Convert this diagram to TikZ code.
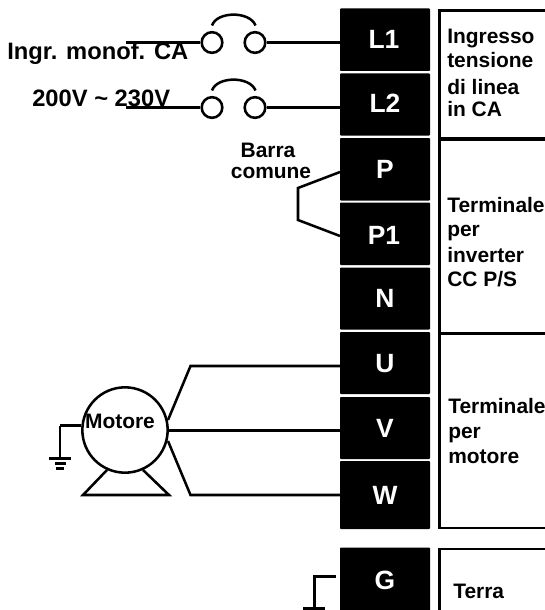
\documentclass[tikz,border=0pt]{standalone}
\usepackage{fontspec}
\setmainfont{Liberation Sans}
\begin{document}
\begin{tikzpicture}[x=0.75pt,y=-0.75pt,line join=miter,
  wire/.style={line width=2.3pt,black},
  thin wire/.style={line width=1.9pt,black},
  tlab/.style={inner sep=0pt,anchor=base,text=white,font=\bfseries\fontsize{19.8}{22}\selectfont},
  contact/.style={circle,draw=black,line width=1.9pt,minimum size=15.5pt,inner sep=0pt,fill=none},
  lab/.style={font=\bfseries\fontsize{15.7}{17}\selectfont,inner sep=0pt,anchor=base west,text=black},
  big lab/.style={font=\bfseries\fontsize{17.8}{19}\selectfont,inner sep=0pt,anchor=base west,text=black},
  cell/.style={draw=black,line width=1.9pt},
  ]
\useasboundingbox (0,0) rectangle (545,610);
% terminals
\foreach \a/\b in {8.5/71,73.5/135.5,138/200.5,202.5/265,267.5/329.5,332/394,397/459,461/529,547.5/612}{
  \fill[black,rounded corners=0.6pt] (340,\a) rectangle (430,\b);
}
\node[tlab] (tl1) at (384,49) {L1};
\node[tlab] (tl2) at (385,113) {L2};
\node[tlab] (tp) at (385,178) {P};
\node[tlab] (tpa) at (384,244) {P1};
\node[tlab] (tn) at (385,307) {N};
\node[tlab] (tu) at (385,372) {U};
\node[tlab] (tv) at (385,437) {V};
\node[tlab] (tw) at (385,504) {W};
\node[tlab] (tg) at (385,589) {G};
% table
\draw[cell] (547,10.5) -- (439.5,10.5) -- (439.5,528) -- (547,528);
\draw[line width=2.4pt] (439.5,139) -- (547,139);
\draw[cell] (439.5,333.5) -- (547,333.5);
\draw[cell] (547,549) -- (439.5,549) -- (439.5,612);
% right labels
\node[lab] (i1) at (447,44) {Ingresso};
\node[lab] (i2) at (447,68) {tensione};
\node[lab] (i3) at (447,94) {di linea};
\node[lab] (i4) at (447,116) {in CA};
\node[lab] (t1) at (447,212) {Terminale};
\node[lab] (t2) at (447,236) {per};
\node[lab] (t3) at (447,262) {inverter};
\node[lab] (t4) at (447,286) {CC P/S};
\node[lab] (m1) at (448,413) {Terminale};
\node[lab] (m2) at (448,438) {per};
\node[lab] (m3) at (448,463) {motore};
\node[lab] (ter) at (453,598) {Terra};
% contacts
\node[contact] (c1a) at (212,42.5) {};
\node[contact] (c1b) at (255,42.5) {};
\node[contact] (c2a) at (212,107.5) {};
\node[contact] (c2b) at (255,107.5) {};
\coordinate (s1) at (126,42.5);
\coordinate (s2) at (126,107.5);
\coordinate (e1) at (340,42.5);
\coordinate (e2) at (340,107.5);
\draw[wire] (s1) -- (c1a.west);
\draw[wire] (s2) -- (c2a.west);
\draw[wire] (c1b.east) -- (e1);
\draw[wire] (c2b.east) -- (e2);
\draw[thin wire] (212,25.5) .. controls (217,11) and (250,11) .. (255.5,25.5);
\draw[thin wire] (212,90.5) .. controls (217,76) and (250,76) .. (255.5,90.5);
\node[big lab] (ing) at (7,60) {Ingr. monof. CA};
\node[big lab] (vv) at (32,107) {200V \textasciitilde\ 230V};
\node[lab,anchor=base] (ba) at (268,157) {Barra};
\node[lab,anchor=base] (co) at (271,178) {comune};
% bar
\coordinate (bp) at (340,172);
\coordinate (bq) at (340,236);
\draw[thin wire] (bp) -- (298,188) -- (298,220) -- (bq);
% motor
\node[circle,draw=black,line width=1.9pt,minimum size=64pt,inner sep=0pt] (mot) at (125,430) {};
\node[lab,anchor=base] (motl) at (120,428) {Motore};
\draw[thin wire] (107,470) -- (83,495) -- (169,495) -- (143,470);
\coordinate (eu) at (340,366);
\coordinate (ev) at (340,430.5);
\coordinate (ew) at (340,495);
\draw[thin wire] (168,420) -- (190.5,366) -- (eu);
\draw[wire] (mot.east |- ev) -- (ev);
\draw[thin wire] (168,441) -- (190.5,495) -- (ew);
% grounds
\draw[wire] (mot.west |- 0,425.5) -- (60,425.5);
\draw[thin wire] (60,425.5) -- (60,458);
\draw[line width=2.25pt] (49,458) -- (71,458);
\draw[line width=2.25pt] (55,463.5) -- (66,463.5);
\draw[line width=2.25pt] (56,468.5) -- (64,468.5);
\coordinate (gs) at (336,576.5);
\draw[thin wire] (gs) -- (314.5,576.5) -- (314.5,608.5);
\draw[line width=2.25pt] (303,608.5) -- (325,608.5);
\end{tikzpicture}
\end{document}
